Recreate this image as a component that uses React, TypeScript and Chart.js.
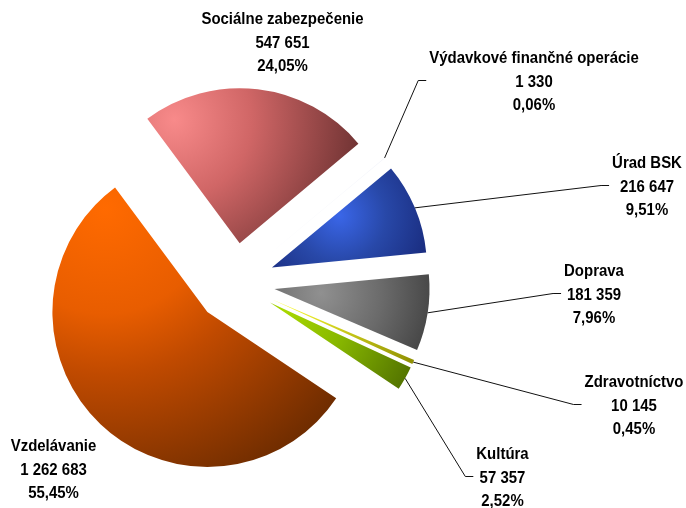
import React, { useEffect, useRef } from 'react';
import { Chart, registerables } from 'chart.js';

Chart.register(...registerables);

// ---- data ----
const categories = [
  'Výdavkové finančné operácie',
  'Úrad BSK',
  'Doprava',
  'Zdravotníctvo',
  'Kultúra',
  'Vzdelávanie',
  'Sociálne zabezpečenie',
];
const values = [1330, 216647, 181359, 10145, 57357, 1262683, 547651];

// ---- layout / style ----
const ROTATION = 50;
const EXPLODE = 40;
const RADIUS = 155;
const FONT = 'bold 17px "Liberation Sans", Arial, sans-serif';
const FONT_SCALE_X = 0.88;
const LINE_H = 23.8;
// middle-line centre of each label, relative to the pie centre
const labelPos: [number, number][] = [
  [299, -201],
  [412, -96],
  [359, 12],
  [399, 123],
  [267.5, 195],
  [-181.5, 187],
  [47.5, -240],
];
const hasLeader = [true, true, true, true, true, false, false];
// gradient focus: [fraction along slice angle, fraction of radius], gradient radius (x R)
const gradFocus: [number, number][] = [
  [0.5, 0.5],
  [0.06, 0.55],
  [0.37, 0.3],
  [0.5, 0.05],
  [0.5, 0.1],
  [0.96, 0.94],
  [0.1, 0.9],
];
const gradRadius = [1, 0.6, 0.8, 1.0, 1.0, 1.95, 1.25];
const gradStops: [number, string][][] = [
  [[0, '#f6f7fb'], [1, '#eef0f8']],
  [[0, '#3a66e8'], [0.5, '#2848a8'], [1, '#1a2d80']],
  [[0, '#909090'], [0.5, '#6a6a6a'], [1, '#3e3e3e']],
  [[0, '#ffff30'], [1, '#8a8a00']],
  [[0, '#a8d800'], [0.4, '#88b800'], [1, '#4a6800']],
  [[0, '#ff6a00'], [0.35, '#e85d00'], [0.55, '#c04a00'], [1, '#6e2c00']],
  [[0, '#f88a8a'], [0.4, '#d06666'], [1, '#6a3030']],
];
const fallbackColors = ['#f0f2f8', '#2848a8', '#6a6a6a', '#c0c000', '#80a800', '#c04a00', '#c06060'];

const total = values.reduce((a, b) => a + b, 0);

function sliceGeom(chart: any, i: number) {
  const ca = chart.chartArea;
  const cx = (ca.left + ca.right) / 2;
  const cy = (ca.top + ca.bottom) / 2;
  let start = -Math.PI / 2 + (ROTATION * Math.PI) / 180;
  for (let j = 0; j < i; j++) start += (values[j] / total) * Math.PI * 2;
  const end = start + (values[i] / total) * Math.PI * 2;
  const mid = (start + end) / 2;
  return { ax: cx + Math.cos(mid) * EXPLODE, ay: cy + Math.sin(mid) * EXPLODE, start, end };
}

function sliceFill(ctx: any) {
  const chart = ctx.chart;
  const i = ctx.dataIndex;
  if (!chart.chartArea || i === undefined) return fallbackColors[i] || '#888';
  const g = sliceGeom(chart, i);
  const [fa, fr] = gradFocus[i];
  const ang = g.start + fa * (g.end - g.start);
  const fx = g.ax + Math.cos(ang) * fr * RADIUS;
  const fy = g.ay + Math.sin(ang) * fr * RADIUS;
  const grad = chart.ctx.createRadialGradient(fx, fy, 0, fx, fy, gradRadius[i] * RADIUS);
  gradStops[i].forEach(([o, c]) => grad.addColorStop(o, c));
  return grad;
}

function fmtValue(v: number) {
  return String(v).replace(/\B(?=(\d{3})+(?!\d))/g, ' ');
}
function fmtPct(v: number) {
  return ((v / total) * 100).toFixed(2).replace('.', ',') + '%';
}

const explodePlugin = {
  id: 'explodeSlices',
  afterDatasetsUpdate(chart: any) {
    const ca = chart.chartArea;
    const cx = (ca.left + ca.right) / 2;
    const cy = (ca.top + ca.bottom) / 2;
    chart.getDatasetMeta(0).data.forEach((arc: any) => {
      const mid = (arc.startAngle + arc.endAngle) / 2;
      arc.x = cx + Math.cos(mid) * EXPLODE;
      arc.y = cy + Math.sin(mid) * EXPLODE;
    });
  },
};

const labelPlugin = {
  id: 'sliceLabels',
  afterDatasetsDraw(chart: any) {
    const c = chart.ctx;
    const ca = chart.chartArea;
    const cx = (ca.left + ca.right) / 2;
    const cy = (ca.top + ca.bottom) / 2;
    const arcs = chart.getDatasetMeta(0).data;
    categories.forEach((name, i) => {
      const lines = [name, fmtValue(values[i]), fmtPct(values[i])];
      const lx = cx + labelPos[i][0];
      const ly = cy + labelPos[i][1];
      c.save();
      c.font = FONT;
      c.fillStyle = '#000';
      c.textAlign = 'center';
      c.textBaseline = 'middle';
      const w = Math.max(...lines.map((t) => c.measureText(t).width)) * FONT_SCALE_X;
      c.translate(lx, ly);
      c.scale(FONT_SCALE_X, 1);
      lines.forEach((t, k) => c.fillText(t, 0, (k - 1) * LINE_H));
      c.restore();
      if (hasLeader[i]) {
        const arc = arcs[i];
        const mid = (arc.startAngle + arc.endAngle) / 2;
        const sx = arc.x + Math.cos(mid) * arc.outerRadius;
        const sy = arc.y + Math.sin(mid) * arc.outerRadius;
        const ex = lx - w / 2 - 3;
        const ey = ly - 1.5;
        c.save();
        c.beginPath();
        c.strokeStyle = '#111';
        c.lineWidth = 1;
        c.moveTo(sx, sy);
        c.lineTo(ex - 8, ey);
        c.lineTo(ex, ey);
        c.stroke();
        c.restore();
      }
    });
  },
};

export default function App() {
  const ref = useRef<HTMLCanvasElement | null>(null);
  useEffect(() => {
    if (!ref.current) return;
    const chart = new Chart(ref.current, {
      type: 'pie',
      data: {
        labels: categories,
        datasets: [
          {
            data: values,
            backgroundColor: sliceFill as any,
            borderWidth: 0,
          },
        ],
      },
      options: {
        responsive: false,
        animation: false,
        rotation: ROTATION,
        radius: RADIUS,
        layout: { padding: { left: 0, right: 216, top: 58, bottom: 0 } },
        plugins: {
          legend: { display: false },
          tooltip: { enabled: false },
        },
      } as any,
      plugins: [explodePlugin, labelPlugin],
    });
    return () => chart.destroy();
  }, []);
  return (
    <div style={{ position: 'absolute', left: 0, top: 0, width: 686, height: 508, background: '#fff' }}>
      <canvas ref={ref} width={686} height={508} />
    </div>
  );
}
